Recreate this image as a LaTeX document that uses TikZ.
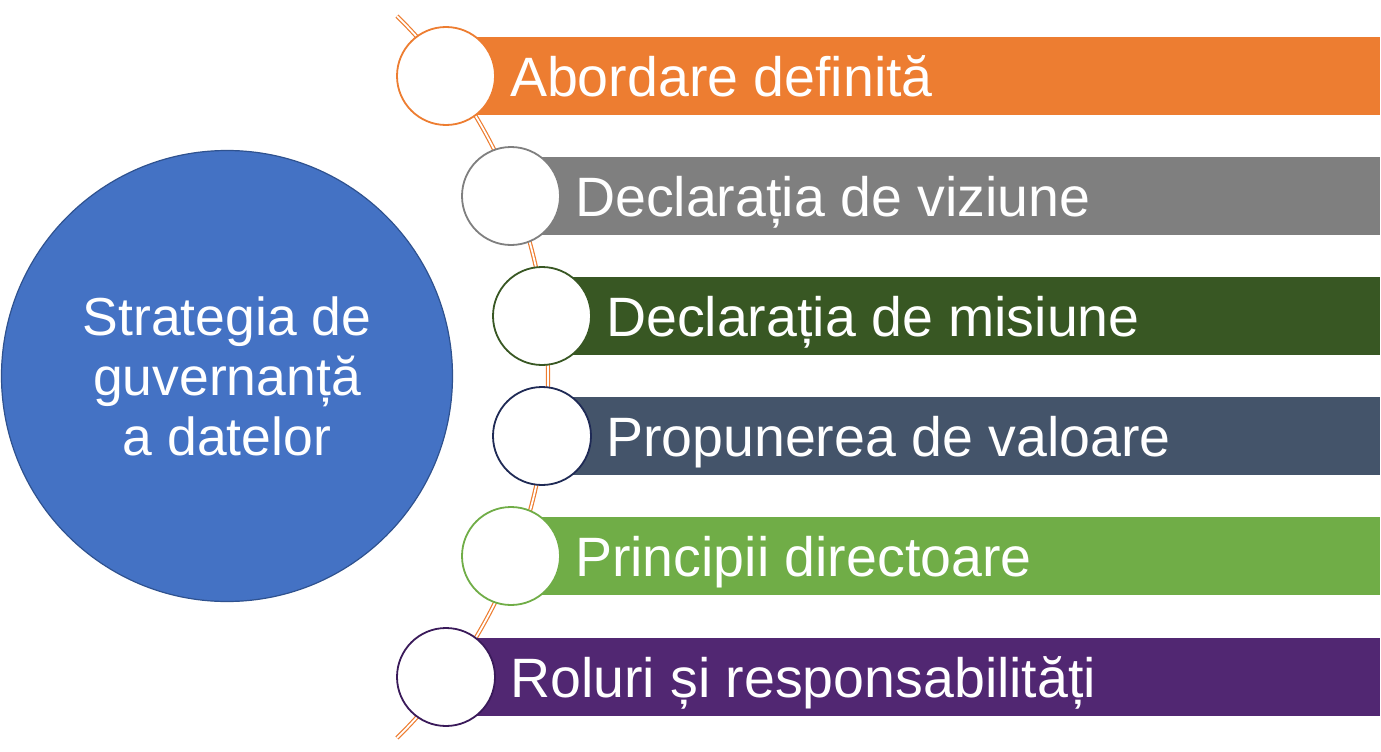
\documentclass[tikz,border=0pt]{standalone}
\usepackage{fontspec}
\setmainfont{Liberation Sans}
\definecolor{cOrange}{HTML}{ED7D31}
\definecolor{cGray}{HTML}{7F7F7F}
\definecolor{cDkGreen}{HTML}{385723}
\definecolor{cNavy}{HTML}{44546A}
\definecolor{cNavyEdge}{HTML}{1F2A55}
\definecolor{cLtGreen}{HTML}{70AD47}
\definecolor{cPurple}{HTML}{512772}
\definecolor{cPurpleEdge}{HTML}{3A1A5A}
\definecolor{cBlue}{HTML}{4472C4}
\definecolor{cBlueEdge}{HTML}{2F528F}
\begin{document}
\begin{tikzpicture}[x=1pt,y=1pt,
  dot/.style={circle, minimum size=98pt, inner sep=0pt, fill=white, line width=1.8pt},
  lbl/.style={anchor=base west, inner sep=0pt, text=white, font=\fontsize{55.5}{66}\selectfont},
  arcline/.style={draw=cOrange, double=white, line width=1.2pt, double distance=1.8pt},
  hub/.style={circle, minimum size=451pt, inner sep=0pt, fill=cBlue, draw=cBlueEdge, line width=1.2pt,
    text=white, align=center, font=\fontsize{53.5}{60}\selectfont}]
\useasboundingbox (0,0) rectangle (1381,-752);
% spine arc
\coordinate (ac) at (41,-377);
\draw[arcline] (ac) ++(45.4:507) arc[start angle=45.4, end angle=-45.4, radius=507];
% bars
\fill[cOrange]  (446,-37)  rectangle (1380,-115);
\fill[cGray]    (511,-157) rectangle (1380,-235);
\fill[cDkGreen] (542,-277) rectangle (1380,-355);
\fill[cNavy]    (542,-397) rectangle (1380,-475);
\fill[cLtGreen] (511,-517) rectangle (1380,-595);
\fill[cPurple]  (446,-638) rectangle (1380,-716);
% circles
\node[dot, draw=cOrange]     (c1) at (446,-76)  {};
\node[dot, draw=cGray]       (c2) at (511,-196) {};
\node[dot, draw=cDkGreen]    (c3) at (542,-316) {};
\node[dot, draw=cNavyEdge]   (c4) at (542,-436) {};
\node[dot, draw=cLtGreen]    (c5) at (511,-556) {};
\node[dot, draw=cPurpleEdge] (c6) at (446,-677) {};
% labels
\node[lbl] (t1) at ([xshift=14pt, yshift=-20pt]c1.east) {Abordare definită};
\node[lbl] (t2) at ([xshift=14pt, yshift=-20pt]c2.east) {Declarația de viziune};
\node[lbl] (t3) at ([xshift=14pt, yshift=-20pt]c3.east) {Declarația de misiune};
\node[lbl] (t4) at ([xshift=14pt, yshift=-20pt]c4.east) {Propunerea de valoare};
\node[lbl] (t5) at ([xshift=14pt, yshift=-20pt]c5.east) {Principii directoare};
\node[lbl] (t6) at ([xshift=14pt, yshift=-20pt]c6.east) {Roluri și responsabilități};
% hub
\node[hub] (hub) at (227,-376) {Strategia de\\guvernanță\\a datelor};
\end{tikzpicture}
\end{document}
